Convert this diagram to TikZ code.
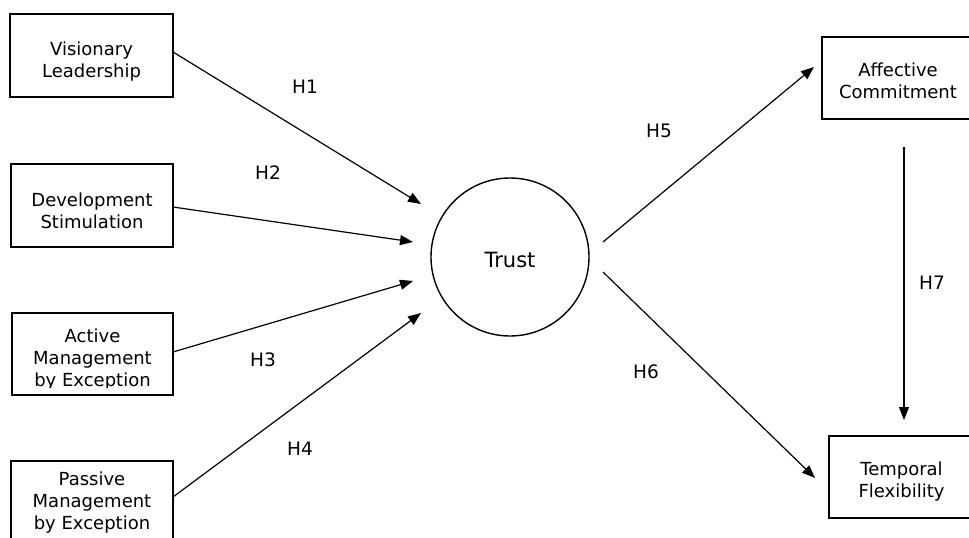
\documentclass[tikz,border=0pt]{standalone}
\usepackage{fontspec}
\setmainfont{DejaVu Sans}
\usetikzlibrary{arrows.meta}
\tikzset{
  box/.style={draw, line width=1.5pt, inner sep=0pt},
  lbl/.style={inner sep=0pt, align=center, font=\fontsize{18}{22}\selectfont},
  hlbl/.style={inner sep=0pt, font=\fontsize{18.5}{22}\selectfont},
  arr/.style={line width=1.2pt, -{Triangle[length=13pt,width=10pt]}},
}
\begin{document}
\begin{tikzpicture}[x=1pt,y=-1pt]
\useasboundingbox (0,0) rectangle (969,538);
\clip (0,0) rectangle (969,538);
% left boxes
\node[box, minimum width=163pt, minimum height=83pt] (vl) at (91.5,55.5) {};
\node[lbl] (vlt) at (91.5,61.2) {Visionary\\Leadership};
\node[box, minimum width=162pt, minimum height=83pt] (ds) at (92,205.5) {};
\node[lbl] (dst) at (92,211.2) {Development\\Stimulation};
\node[box, minimum width=161pt, minimum height=82pt] (am) at (92.5,354) {};
\begin{scope}
\clip (12,313) rectangle (173,387);
\node[lbl] (amt) at (92.5,359.3) {Active\\Management\\by Exception};
\end{scope}
\node[box, minimum width=162pt, minimum height=83pt] (pm) at (92,502.5) {};
\node[lbl] (pmt) at (92,502.3) {Passive\\Management\\by Exception};
% trust
\node[draw, circle, line width=1.4pt, minimum size=158pt, inner sep=0pt] (tr) at (510,257) {};
\node[lbl, font=\fontsize{21}{24}\selectfont] (trt) at (510,260) {Trust};
% right boxes
\node[box, minimum width=152pt, minimum height=82pt] (ac) at (898,78) {};
\node[lbl] (act) at (898,81.2) {Affective\\Commitment};
\node[box, minimum width=145pt, minimum height=82pt] (tf) at (901.5,477) {};
\node[lbl] (tft) at (901.5,481.2) {Temporal\\Flexibility};
% connector end points
\coordinate (s1) at (173,52);   \coordinate (e1) at (421,204);
\coordinate (s2) at (173,207);  \coordinate (e2) at (413,242);
\coordinate (s3) at (173,352);  \coordinate (e3) at (413,281);
\coordinate (s4) at (173,497);  \coordinate (e4) at (421,313);
\coordinate (s5) at (603,242);  \coordinate (e5) at (814,67);
\coordinate (s6) at (603,272);  \coordinate (e6) at (815,478);
\coordinate (s7) at (904,147);  \coordinate (e7) at (904,420);
\draw[arr] (s1) -- (e1);
\draw[arr] (s2) -- (e2);
\draw[arr] (s3) -- (e3);
\draw[arr] (s4) -- (e4);
\draw[arr] (s5) -- (e5);
\draw[arr] (s6) -- (e6);
\draw[arr] (s7) -- (e7);
% labels
\node[hlbl] (h1) at (305,87) {H1};
\node[hlbl] (h2) at (268,173) {H2};
\node[hlbl] (h3) at (263,360) {H3};
\node[hlbl] (h4) at (300,449) {H4};
\node[hlbl] (h5) at (659,131) {H5};
\node[hlbl] (h6) at (646,372) {H6};
\node[hlbl] (h7) at (932,283) {H7};
\end{tikzpicture}
\end{document}
